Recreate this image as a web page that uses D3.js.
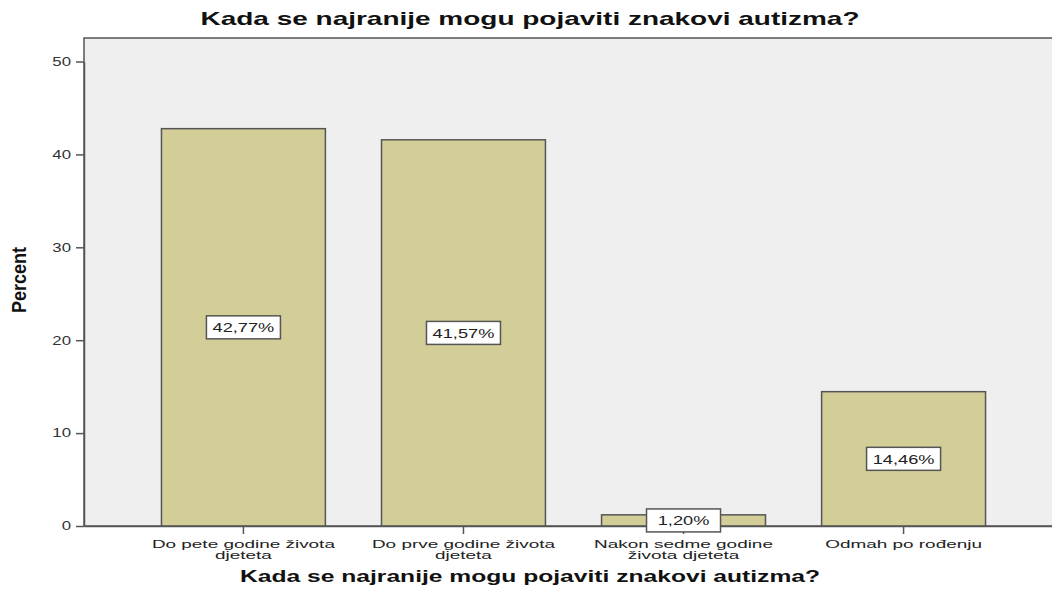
<!DOCTYPE html>
<html>
<head>
<meta charset="utf-8">
<script src="https://cdn.jsdelivr.net/npm/d3@7"></script>
<style>
  body { margin: 0; background: #fff; }
  text { font-family: "Liberation Sans", Arial, sans-serif; }
</style>
</head>
<body>
<svg id="chart"></svg>
<script>
const width = 1052;
const height = 594;

// data
const categories = [
  ["Do pete godine života", "djeteta"],
  ["Do prve godine života", "djeteta"],
  ["Nakon sedme godine", "života djeteta"],
  ["Odmah po rođenju"]
];
const percents = [42.77, 41.57, 1.20, 14.46];
const yTicks = [0, 10, 20, 30, 40, 50];

const title = "Kada se najranije mogu pojaviti znakovi autizma?";

const margin = {top: 38, left: 84, bottom: 68};
const plotRight = 1063; // plot frame runs past the right edge

const svg = d3.select("#chart")
  .attr("width", width)
  .attr("height", height);

// the original output uses a horizontally stretched font
function stretch(sel, k) {
  sel.each(function() {
    const len = this.getComputedTextLength();
    d3.select(this)
      .attr("textLength", len * k)
      .attr("lengthAdjust", "spacingAndGlyphs");
  });
}

const x = d3.scaleBand()
  .domain(d3.range(categories.length))
  .range([margin.left, plotRight])
  .paddingInner(0.255)
  .paddingOuter(0.352);

const y = d3.scaleLinear()
  .domain([0, 50])
  .range([height - margin.bottom, 61.5]);

// plot background + frame
svg.append("rect")
  .attr("x", margin.left)
  .attr("y", margin.top)
  .attr("width", plotRight - margin.left)
  .attr("height", y(0) - margin.top)
  .attr("fill", "#efefef")
  .attr("stroke", "#555")
  .attr("stroke-width", 1.5);

// bars
svg.append("g")
  .selectAll("rect")
  .data(percents)
  .join("rect")
    .attr("x", (d, i) => x(i))
    .attr("y", d => y(d))
    .attr("width", x.bandwidth())
    .attr("height", d => y(0) - y(d))
    .attr("fill", "#d3ce98")
    .attr("stroke", "#555")
    .attr("stroke-width", 1.5);

// y axis
const yAxis = svg.append("g")
  .attr("transform", `translate(${margin.left},0)`)
  .call(d3.axisLeft(y).tickValues(yTicks).tickSize(8).tickSizeOuter(0).tickPadding(5));
yAxis.select(".domain").attr("stroke", "#555").attr("stroke-width", 1.5);
yAxis.selectAll(".tick line").attr("stroke", "#555").attr("stroke-width", 1.5);
yAxis.selectAll(".tick text")
  .attr("font-size", 12)
  .attr("fill", "#333")
  .attr("font-family", "'Liberation Sans', Arial, sans-serif")
  .call(stretch, 1.4);

// x axis
const xAxis = svg.append("g")
  .attr("transform", `translate(0,${y(0)})`)
  .call(d3.axisBottom(x).tickSize(8).tickSizeOuter(0).tickFormat(""));
xAxis.select(".domain").attr("stroke", "#555").attr("stroke-width", 1.5);
xAxis.selectAll(".tick line").attr("stroke", "#555").attr("stroke-width", 1.5);

// category labels
const catLabels = svg.append("g")
  .selectAll("text")
  .data(categories)
  .join("text")
    .attr("x", (d, i) => x(i) + x.bandwidth() / 2)
    .attr("y", y(0) + 22)
    .attr("text-anchor", "middle")
    .attr("font-size", 11)
    .attr("fill", "#222");

catLabels.each(function(d) {
  d3.select(this).selectAll("tspan")
    .data(d)
    .join("tspan")
      .attr("x", d3.select(this).attr("x"))
      .attr("dy", (t, j) => j === 0 ? 0 : 10.5)
      .text(t => t);
});
catLabels.selectAll("tspan").call(stretch, 1.72);

// value labels in boxes
const labels = svg.append("g")
  .selectAll("g")
  .data(percents)
  .join("g")
    .attr("transform", (d, i) => `translate(${x(i) + x.bandwidth() / 2},${y(d / 2)})`);

labels.append("rect")
  .attr("x", -37)
  .attr("y", -11.5)
  .attr("width", 74)
  .attr("height", 23)
  .attr("fill", "#fff")
  .attr("stroke", "#555")
  .attr("stroke-width", 1.5);

labels.append("text")
  .attr("text-anchor", "middle")
  .attr("dy", "0.36em")
  .attr("font-size", 13)
  .attr("fill", "#222")
  .text(d => d.toFixed(2).replace(".", ",") + "%")
  .call(stretch, 1.4);

// titles
svg.append("text")
  .attr("x", 530)
  .attr("y", 25)
  .attr("text-anchor", "middle")
  .attr("font-size", 19)
  .attr("font-weight", "bold")
  .attr("fill", "#111")
  .attr("textLength", 659)
  .attr("lengthAdjust", "spacingAndGlyphs")
  .text(title);

svg.append("text")
  .attr("x", 530)
  .attr("y", 582)
  .attr("text-anchor", "middle")
  .attr("font-size", 17)
  .attr("font-weight", "bold")
  .attr("fill", "#111")
  .attr("textLength", 580)
  .attr("lengthAdjust", "spacingAndGlyphs")
  .text(title);

svg.append("text")
  .attr("transform", `translate(26,280) rotate(-90)`)
  .attr("text-anchor", "middle")
  .attr("font-size", 21)
  .attr("font-weight", "bold")
  .attr("font-family", "'DejaVu Sans Condensed', 'Liberation Sans Narrow', sans-serif")
  .attr("fill", "#111")
  .attr("textLength", 66)
  .attr("lengthAdjust", "spacingAndGlyphs")
  .text("Percent");
</script>
</body>
</html>
